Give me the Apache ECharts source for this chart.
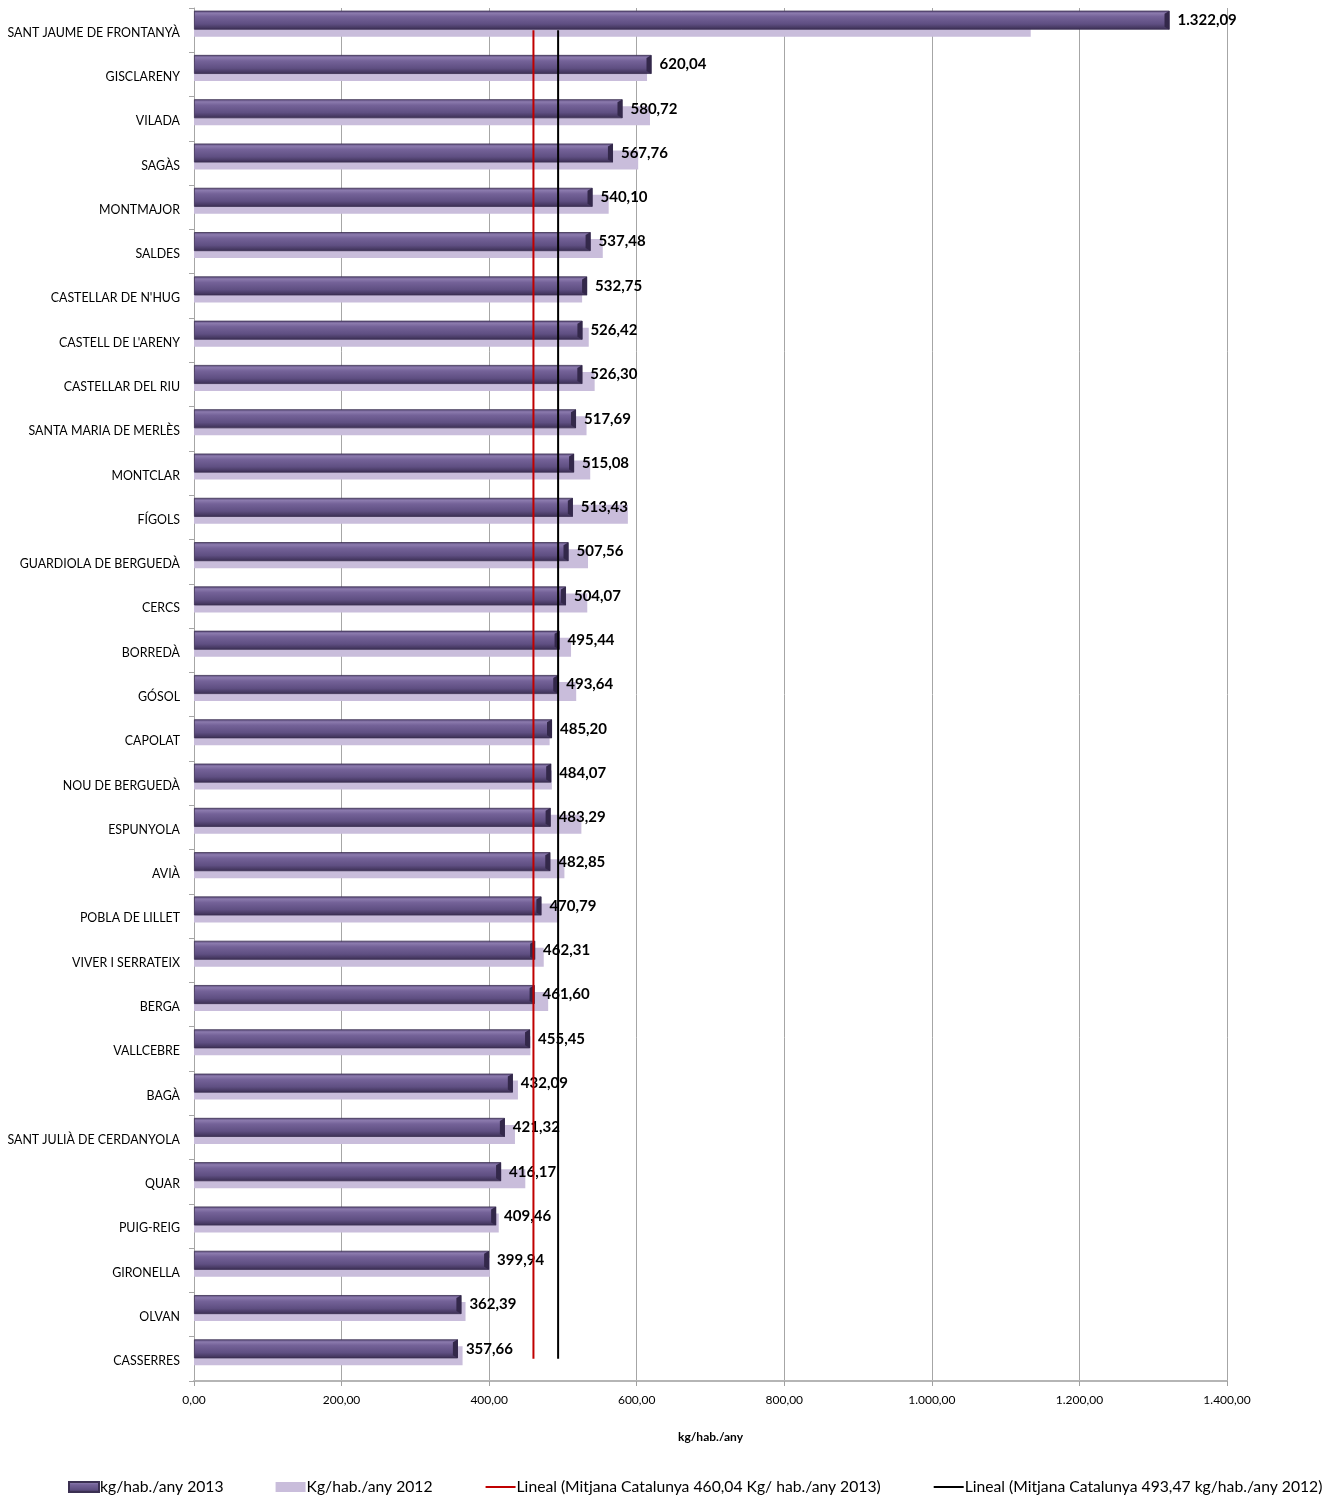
<!DOCTYPE html>
<html>
<head>
<meta charset="utf-8">
<script src="https://cdn.jsdelivr.net/npm/echarts@6/dist/echarts.min.js"></script>
<style>html,body{margin:0;padding:0;background:#fff;}#c{width:1337px;height:1499px;}</style>
</head>
<body>
<div id="c"></div>
<script>
const categories = ['SANT JAUME DE FRONTANYÀ','GISCLARENY','VILADA','SAGÀS','MONTMAJOR','SALDES',"CASTELLAR DE N'HUG","CASTELL DE L'ARENY",'CASTELLAR DEL RIU','SANTA MARIA DE MERLÈS','MONTCLAR','FÍGOLS','GUARDIOLA DE BERGUEDÀ','CERCS','BORREDÀ','GÓSOL','CAPOLAT','NOU DE BERGUEDÀ','ESPUNYOLA','AVIÀ','POBLA DE LILLET','VIVER I SERRATEIX','BERGA','VALLCEBRE','BAGÀ','SANT JULIÀ DE CERDANYOLA','QUAR','PUIG-REIG','GIRONELLA','OLVAN','CASSERRES'];
const values2013 = [1322.09,620.04,580.72,567.76,540.10,537.48,532.75,526.42,526.30,517.69,515.08,513.43,507.56,504.07,495.44,493.64,485.20,484.07,483.29,482.85,470.79,462.31,461.60,455.45,432.09,421.32,416.17,409.46,399.94,362.39,357.66];
const values2012 = [1134,614,618,602,562,554,526,535,543,532,537,588,534,533,511,518,482,485,525,502,494,474,480,456,439,435,449,413,401,368,364];
const avg2013 = 460.04;
const avg2012 = 493.47;
const xTicks = [0,200,400,600,800,1000,1200,1400];
const names = ['kg/hab./any 2013','Kg/hab./any 2012','Lineal (Mitjana Catalunya 460,04 Kg/ hab./any 2013)','Lineal (Mitjana Catalunya 493,47 kg/hab./any 2012)'];

function fmt(v){
  const parts = Number(v).toFixed(2).split('.');
  const i = parts[0].replace(/\B(?=(\d{3})+(?!\d))/g,'.');
  return i + ',' + parts[1];
}

const FONT = 'Lato';
const chart = echarts.init(document.getElementById('c'));
const first = categories[0], last = categories[categories.length-1];

chart.setOption({
  animation:false,
  backgroundColor:'#fff',
  textStyle:{fontFamily:FONT},
  grid:{left:194,right:110,top:8,bottom:118,containLabel:false},
  xAxis:{
    type:'value',min:xTicks[0],max:xTicks[xTicks.length-1],interval:200,
    name:'kg/hab./any',nameLocation:'middle',nameGap:50,
    nameTextStyle:{fontFamily:FONT,fontSize:12,fontWeight:'bold',color:'#000'},
    axisLine:{show:true,lineStyle:{color:'#b5b5b5',width:2}},
    axisTick:{show:true,length:5,lineStyle:{color:'#a0a0a0'}},
    axisLabel:{fontFamily:FONT,fontSize:12,color:'#000',margin:13,formatter:function(v){return fmt(v);}},
    splitLine:{show:true,lineStyle:{color:'#a6a6a6',width:1}}
  },
  yAxis:{
    type:'category',data:categories,inverse:true,
    axisLine:{show:true,lineStyle:{color:'#a6a6a6',width:1}},
    axisTick:{show:true,length:5,lineStyle:{color:'#a6a6a6'}},
    axisLabel:{fontFamily:FONT,fontSize:12.4,color:'#000',margin:14,interval:0,
      formatter:function(v){return '{a|' + v + '}';},
      rich:{a:{fontFamily:FONT,fontSize:12.4,color:'#000',padding:[5,0,0,0]}}},
    splitLine:{show:false}
  },
  legend:{
    left:68,top:1479,padding:0,width:1269,itemGap:52,itemWidth:30,itemHeight:10,
    textStyle:{fontFamily:FONT,fontSize:15.7,color:'#000',padding:[0,0,0,-4]},
    data:[
      {name:names[0],icon:'rect'},
      {name:names[1],icon:'rect'},
      {name:names[2],itemStyle:{opacity:0}},
      {name:names[3],itemStyle:{opacity:0}}
    ]
  },
  series:[
    {
      name:names[0],type:'bar',data:values2013,barWidth:19,z:4,
      itemStyle:{
        color:new echarts.graphic.LinearGradient(0,0,0,1,[
          {offset:0,color:'#5a4a7a'},
          {offset:0.14,color:'#8b7aad'},
          {offset:0.32,color:'#746298'},
          {offset:0.7,color:'#5f4f82'},
          {offset:1,color:'#3a2e52'}
        ]),
        borderColor:'#3b3052',borderWidth:0.8
      },
      label:{show:true,position:'right',distance:8,fontFamily:FONT,fontSize:15,fontWeight:'bold',color:'#000',formatter:function(p){return fmt(p.value);}}
    },
    {
      name:names[1],type:'bar',data:values2012,barWidth:19,z:2,
      itemStyle:{color:'#c9bddb'}
    },
    {
      name:'_spacer',type:'bar',data:categories.map(function(){return '-';}),barWidth:25,barGap:'-63.2%',z:1,
      itemStyle:{color:'rgba(0,0,0,0)'}
    },
    {
      name:'_cap',type:'pictorialBar',data:values2013,z:5,
      symbol:'path://M0,3 L5,0 L5,19 L0,16 Z',symbolSize:[5,19],symbolPosition:'end',
      symbolOffset:[0,-10],
      itemStyle:{color:'#33284a'}
    },
    {
      name:names[2],type:'line',symbol:'none',z:6,
      lineStyle:{color:'#c00000',width:2},itemStyle:{color:'#c00000'},
      data:[[avg2013,first],[avg2013,last]]
    },
    {
      name:names[3],type:'line',symbol:'none',z:6,
      lineStyle:{color:'#000000',width:2},itemStyle:{color:'#000000'},
      data:[[avg2012,first],[avg2012,last]]
    }
  ]
});
</script>
</body>
</html>
